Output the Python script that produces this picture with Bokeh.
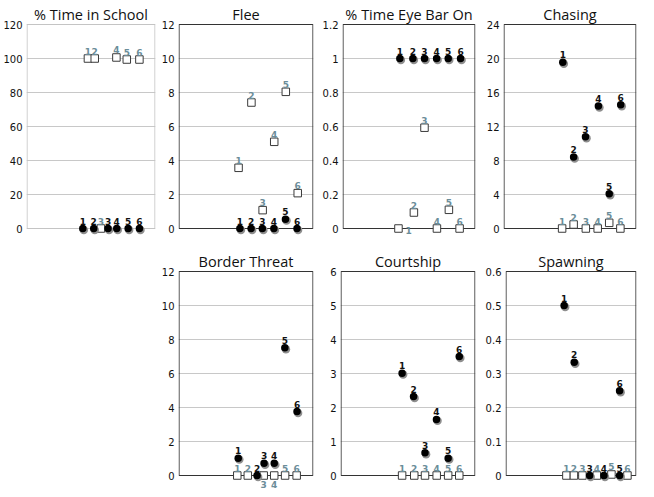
from bokeh.plotting import figure
from bokeh.layouts import row, column, Spacer
from bokeh.models import FixedTicker, BoxAnnotation, CustomJSTickFormatter
from bokeh.core.properties import value
from bokeh.embed import file_html
from bokeh.resources import INLINE

labels = ["1", "2", "3", "4", "5", "6"]

# ---- data (x = group position, y = value) ----
school_circ_x = [0.89, 1.87, 3.15, 3.93, 4.95, 5.96]
school_circ_y = [0, 0, 0, 0, 0, 0]
school_sq_x = [1.35, 1.96, 2.51, 3.90, 4.83, 5.96]
school_sq_y = [100, 100, 0, 100.6, 99.4, 99.4]
school_ticks = [0, 20, 40, 60, 80, 100, 120]

flee_circ_x = [1.10, 2.06, 3.02, 4.01, 5.00, 5.99]
flee_circ_y = [0, 0, 0, 0, 0.55, 0]
flee_sq_x = [0.99, 2.09, 3.05, 4.04, 5.03, 6.05]
flee_sq_y = [3.57, 7.41, 1.08, 5.10, 8.04, 2.08]
flee_ticks = [0, 2, 4, 6, 8, 10, 12]

eye_circ_x = [0.83, 1.96, 2.97, 4.02, 5.03, 6.10]
eye_circ_y = [1, 1, 1, 1, 1, 1]
eye_sq_x = [0.71, 2.05, 2.97, 4.05, 5.09, 6.02]
eye_sq_y = [0, 0.094, 0.593, 0, 0.11, 0]
eye_ticks = [0, 0.2, 0.4, 0.6, 0.8, 1, 1.2]

chase_circ_x = [1.00, 1.94, 2.97, 4.09, 5.03, 6.03]
chase_circ_y = [19.56, 8.4, 10.8, 14.4, 4.08, 14.55]
chase_sq_x = [0.94, 1.94, 3.00, 4.03, 5.03, 6.00]
chase_sq_y = [0, 0.47, 0, 0, 0.67, 0]
chase_ticks = [0, 4, 8, 12, 16, 20, 24]

border_circ_x = [0.96, 2.57, 3.17, 4.04, 4.95, 5.99]
border_circ_y = [1.02, 0, 0.72, 0.72, 7.51, 3.76]
border_sq_x = [0.88, 1.78, 3.14, 4.04, 4.97, 5.96]
border_sq_y = [0, 0, 0, 0, 0, 0]
border_ticks = [0, 2, 4, 6, 8, 10, 12]

court_circ_x = [1.12, 2.10, 3.08, 4.06, 5.06, 6.01]
court_circ_y = [3.01, 2.32, 0.67, 1.65, 0.51, 3.50]
court_sq_x = [1.12, 2.16, 3.08, 4.08, 5.06, 6.01]
court_sq_y = [0, 0, 0, 0, 0, 0]
court_ticks = [0, 1, 2, 3, 4, 5, 6]

spawn_circ_x = [1.02, 1.91, 3.27, 4.53, 5.91, 5.91]
spawn_circ_y = [0.5, 0.333, 0, 0, 0, 0.249]
spawn_sq_x = [1.22, 1.88, 2.63, 3.90, 5.19, 6.60]
spawn_sq_y = [0, 0, 0, 0, 0.003, 0]
spawn_ticks = [0, 0.1, 0.2, 0.3, 0.4, 0.5, 0.6]

SQ_LABEL = "#6b8d99"
FRAME_H = 204
XR = (-4.15, 7.4)
XB = (-4.1, 7.35)


def panel(title, cx, cy, sx, sy, ticks, frame_w, bl, br, bt, bb, ext_px,
          box_color="#333333", sq_place=None):
    ymax = ticks[-1]
    ext = ymax * ext_px / FRAME_H
    p = figure(width=bl + frame_w + br, frame_height=FRAME_H + ext_px + 1,
               x_range=XR, y_range=(-ext, ymax + ymax / FRAME_H),
               output_backend="svg", toolbar_location=None,
               min_border_left=bl, min_border_right=br,
               min_border_top=bt, min_border_bottom=bb, title=title)
    p.title.text_font = "Open Sans"
    p.title.text_font_size = "14.5px"
    p.title.text_font_style = "normal"
    p.title.align = "center"
    p.title.standoff = 0
    p.title.text_color = "#111111"
    p.outline_line_color = None
    p.xaxis.visible = False
    p.xgrid.visible = False
    p.yaxis.ticker = FixedTicker(ticks=ticks)
    p.yaxis.formatter = CustomJSTickFormatter(code="return String(+tick.toFixed(4));")
    p.yaxis.axis_line_color = None
    p.yaxis.major_tick_line_color = None
    p.yaxis.minor_tick_line_color = None
    p.yaxis.major_tick_out = 0
    p.yaxis.major_tick_in = 0
    p.yaxis.minor_tick_out = 0
    p.yaxis.minor_tick_in = 0
    p.yaxis.major_label_standoff = 4
    p.yaxis.major_label_text_font = "DejaVu Sans"
    p.yaxis.major_label_text_font_size = "10px"
    p.yaxis.major_label_text_color = "#111111"
    p.ygrid.ticker = FixedTicker(ticks=ticks)
    p.ygrid.grid_line_color = "#c8c8c8"
    p.ygrid.grid_line_width = 1

    box = BoxAnnotation(left=XB[0], right=XB[1], bottom=0, top=ymax,
                        fill_alpha=0, fill_color=None, line_color=box_color,
                        line_alpha=1.0, line_width=1, level="underlay")
    p.add_layout(box)

    # open squares
    p.scatter(sx, sy, marker="square", size=7.5, fill_color="white",
              line_color="#3a3a3a", line_width=1)
    # shadowed black circles
    p.scatter([x + 0.09 for x in cx], [y - ymax * 0.007 for y in cy],
              marker="circle", size=8.5, fill_color="#8f8f8f", line_color=None)
    p.scatter(cx, cy, marker="circle", size=7.5, fill_color="black",
              line_color=None)

    font = value("DejaVu Sans")
    p.text(cx, cy, text=labels, text_align="center", text_baseline="bottom",
           y_offset=-4, text_font=font, text_font_style="bold",
           text_font_size="9px", text_color="#111111")

    place = sq_place or ["a"] * 6
    groups = {"a": ([], [], []), "b": ([], [], []), "r": ([], [], [])}
    for x, y, t, pl in zip(sx, sy, labels, place):
        groups[pl][0].append(x)
        groups[pl][1].append(y)
        groups[pl][2].append(t)
    common = dict(text_font=font, text_font_style="bold",
                  text_font_size="9px", text_color=SQ_LABEL)
    if groups["a"][0]:
        p.text(groups["a"][0], groups["a"][1], text=groups["a"][2],
               text_align="center", text_baseline="bottom", y_offset=-4, **common)
    if groups["b"][0]:
        p.text(groups["b"][0], groups["b"][1], text=groups["b"][2],
               text_align="center", text_baseline="top", y_offset=5, **common)
    if groups["r"][0]:
        p.text(groups["r"][0], groups["r"][1], text=groups["r"][2],
               text_align="left", text_baseline="middle", x_offset=7, y_offset=2, **common)
    return p


f1 = panel("% Time in School", school_circ_x, school_circ_y, school_sq_x, school_sq_y,
           school_ticks, 133, 22, 2, 19, 5, 16, box_color="#c4c4c4")
f2 = panel("Flee", flee_circ_x, flee_circ_y, flee_sq_x, flee_sq_y,
           flee_ticks, 135, 21, 6, 19, 5, 16)
f3 = panel("% Time Eye Bar On", eye_circ_x, eye_circ_y, eye_sq_x, eye_sq_y,
           eye_ticks, 135, 21, 7, 19, 5, 16, sq_place=["r", "a", "a", "a", "a", "a"])
f4 = panel("Chasing", chase_circ_x, chase_circ_y, chase_sq_x, chase_sq_y,
           chase_ticks, 133, 21, 2, 19, 5, 16)
f5 = panel("Border Threat", border_circ_x, border_circ_y, border_sq_x, border_sq_y,
           border_ticks, 135, 21, 6, 19, 0, 13, sq_place=["a", "a", "b", "b", "a", "a"])
f6 = panel("Courtship", court_circ_x, court_circ_y, court_sq_x, court_sq_y,
           court_ticks, 135, 21, 7, 19, 0, 13)
f7 = panel("Spawning", spawn_circ_x, spawn_circ_y, spawn_sq_x, spawn_sq_y,
           spawn_ticks, 133, 21, 2, 19, 0, 13)

layout = column(Spacer(width=10, height=2),
                row(f1, f2, f3, f4),
                row(Spacer(width=157, height=10), f5, f6, f7))

open("out.html", "w").write(file_html(layout, INLINE))
